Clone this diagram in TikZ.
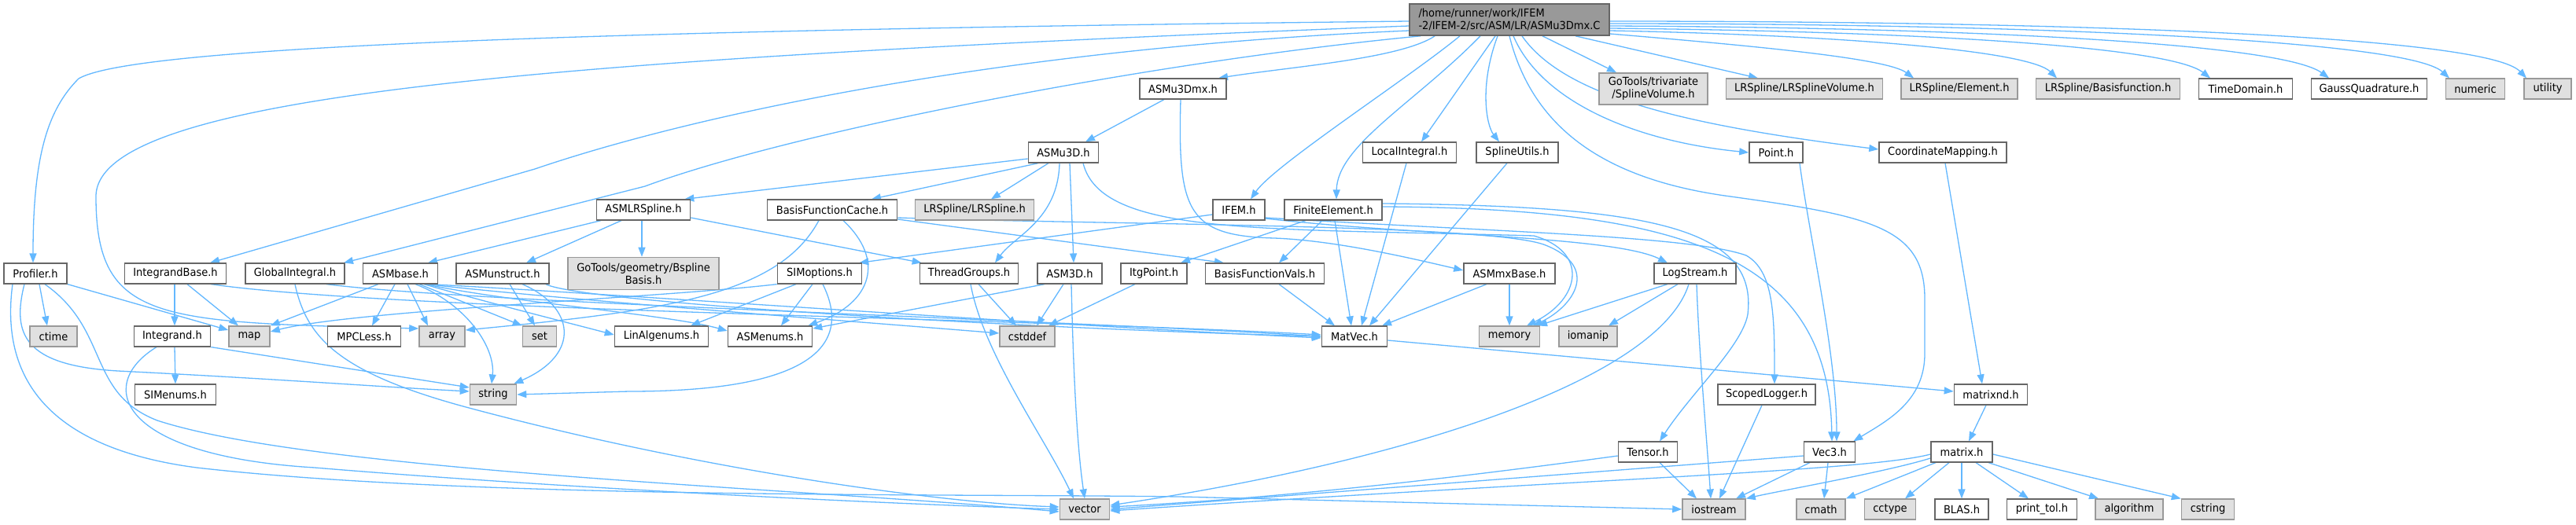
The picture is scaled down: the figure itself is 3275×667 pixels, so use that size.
\documentclass[tikz,border=0pt]{standalone}
\usepackage{fontspec}
\setmainfont{DejaVu Sans}[FakeStretch=0.93]
\usetikzlibrary{arrows.meta}
\definecolor{edgec}{HTML}{63B8FF}
\definecolor{bdark}{HTML}{666666}
\definecolor{blight}{HTML}{999999}
\definecolor{gfill}{HTML}{E0E0E0}
\definecolor{rootfill}{HTML}{999999}
\pgfdeclarelayer{bg}
\pgfsetlayers{bg,main}
\begin{document}
\begin{tikzpicture}[x=1pt,y=-1pt,
  box/.style={rectangle, inner sep=0pt, minimum height=25.6pt, line width=1.6pt, font=\fontsize{14}{16}\selectfont, text=black},
  wn/.style={box, draw=bdark, fill=white},
  gn/.style={box, draw=blight, fill=gfill},
  rt/.style={box, draw=bdark, fill=rootfill, align=left, minimum height=40pt},
  ed/.style={draw=edgec, line width=1.3pt, -{Triangle[length=12pt,width=9pt]}},
]
\useasboundingbox (0,0) rectangle (3275,667);
% nodes
\node[rt, minimum width=254pt] (R) at (1919,25) {/home/runner/work/IFEM\\-2/IFEM-2/src/ASM/LR/ASMu3Dmx.C};
\node[wn, minimum width=110pt] (mx) at (1504,113) {ASMu3Dmx.h};
\node[gn, minimum width=138pt, minimum height=40pt, align=center] (sv) at (2102,113) {GoTools/trivariate\\/SplineVolume.h};
\node[gn, minimum width=199pt] (lrv) at (2294,113) {LRSpline/LRSplineVolume.h};
\node[gn, minimum width=148pt] (el) at (2491,113) {LRSpline/Element.h};
\node[gn, minimum width=183pt] (bf) at (2680,113) {LRSpline/Basisfunction.h};
\node[wn, minimum width=119pt] (td) at (2855,113) {TimeDomain.h};
\node[wn, minimum width=147pt] (gq) at (3012,113) {GaussQuadrature.h};
\node[gn, minimum width=75pt] (num) at (3147,113) {numeric};
\node[gn, minimum width=60pt] (util) at (3239,113) {utility};
\node[wn, minimum width=89pt] (u3d) at (1352,194) {ASMu3D.h};
\node[wn, minimum width=119pt] (li) at (1792,194) {LocalIntegral.h};
\node[wn, minimum width=104pt] (su) at (1929,194) {SplineUtils.h};
\node[wn, minimum width=68pt] (pt) at (2258,194) {Point.h};
\node[wn, minimum width=162pt] (cm) at (2470,194) {CoordinateMapping.h};
\node[wn, minimum width=119pt] (lrs) at (818,267) {ASMLRSpline.h};
\node[wn, minimum width=165pt] (bfc) at (1058,267) {BasisFunctionCache.h};
\node[gn, minimum width=151pt] (lrl) at (1239,267) {LRSpline/LRSpline.h};
\node[wn, minimum width=66pt] (ifem) at (1575,267) {IFEM.h};
\node[wn, minimum width=124pt] (fe) at (1695,267) {FiniteElement.h};
\node[wn, minimum width=80pt] (prof) at (45,348) {Profiler.h};
\node[wn, minimum width=129pt] (ib) at (223,348) {IntegrandBase.h};
\node[wn, minimum width=126pt] (gi) at (375,348) {GlobalIntegral.h};
\node[wn, minimum width=95pt] (ab) at (509,348) {ASMbase.h};
\node[wn, minimum width=118pt] (au) at (639,348) {ASMunstruct.h};
\node[gn, minimum width=192pt, minimum height=41pt, align=center] (bsb) at (818,348) {GoTools/geometry/Bspline\\Basis.h};
\node[wn, minimum width=107pt] (sim) at (1042,348) {SIMoptions.h};
\node[wn, minimum width=125pt] (tg) at (1232,348) {ThreadGroups.h};
\node[wn, minimum width=82pt] (a3d) at (1360,348) {ASM3D.h};
\node[wn, minimum width=84pt] (ip) at (1467,348) {ItgPoint.h};
\node[wn, minimum width=151pt] (bfv) at (1608,348) {BasisFunctionVals.h};
\node[wn, minimum width=116pt] (mxb) at (1919,348) {ASMmxBase.h};
\node[wn, minimum width=104pt] (ls) at (2155,348) {LogStream.h};
\node[gn, minimum width=60pt] (ctime) at (68,428) {ctime};
\node[wn, minimum width=97pt] (ig) at (219,428) {Integrand.h};
\node[gn, minimum width=52pt] (map) at (317,428) {map};
\node[wn, minimum width=93pt] (mpc) at (463,428) {MPCLess.h};
\node[gn, minimum width=58pt] (arr) at (562,428) {array};
\node[gn, minimum width=43pt] (set) at (686,428) {set};
\node[wn, minimum width=119pt] (lae) at (841,428) {LinAlgenums.h};
\node[wn, minimum width=107pt] (ae) at (979,428) {ASMenums.h};
\node[gn, minimum width=70pt] (cst) at (1306,428) {cstddef};
\node[wn, minimum width=83pt] (mv) at (1722,428) {MatVec.h};
\node[gn, minimum width=77pt] (mem) at (1919,428) {memory};
\node[gn, minimum width=74pt] (iom) at (2019,428) {iomanip};
\node[wn, minimum width=103pt] (sime) at (223,502) {SIMenums.h};
\node[gn, minimum width=59pt] (str) at (627,502) {string};
\node[wn, minimum width=124pt] (sl) at (2246,502) {ScopedLogger.h};
\node[wn, minimum width=93pt] (mnd) at (2531,502) {matrixnd.h};
\node[wn, minimum width=75pt] (ten) at (2095,575) {Tensor.h};
\node[wn, minimum width=65pt] (v3) at (2326,575) {Vec3.h};
\node[wn, minimum width=78pt] (mat) at (2494,575) {matrix.h};
\node[gn, minimum width=63pt] (vec) at (1379,648) {vector};
\node[gn, minimum width=80pt] (ios) at (2179,648) {iostream};
\node[gn, minimum width=62pt] (cmath) at (2315,648) {cmath};
\node[gn, minimum width=65pt] (cct) at (2403,648) {cctype};
\node[wn, minimum width=68pt] (blas) at (2494,648) {BLAS.h};
\node[wn, minimum width=89pt] (pto) at (2596,648) {print\_tol.h};
\node[gn, minimum width=86pt] (alg) at (2707,648) {algorithm};
\node[gn, minimum width=67pt] (cstr) at (2807,648) {cstring};

\begin{pgfonlayer}{bg}
\fill[white] (0,0) rectangle (3275,667);
% root
\draw[ed] ([yshift=-2]R.west) .. controls (600,40) and (160,65) .. (100,100) .. controls (60,140) and (42,200) .. ([xshift=-3]prof.north);
\draw[ed] ([yshift=-8]R.west) .. controls (700,75) and (122,120) .. (122,250) .. controls (122,410) and (200,410) .. ([yshift=10]arr.west);
\draw[ed] ([yshift=-14]R.west) .. controls (1300,60) and (900,140) .. (680,215) -- ([xshift=44]ib.north);
\draw[ed] ([xshift=15]R.south west) .. controls (1450,80) and (1000,170) .. (820,237) -- ([xshift=62]gi.north);
\draw[ed] ([xshift=33]R.south west) .. controls (1780,75) and (1640,85) .. ([xshift=45]mx.north);
\draw[ed] ([xshift=-63]R.south) .. controls (1790,100) and (1620,210) .. ([xshift=15]ifem.north);
\draw[ed] ([xshift=-37]R.south) .. controls (1800,130) and (1700,185) .. ([xshift=4]fe.north);
\draw[ed] ([xshift=-18]R.south) -- ([xshift=15]li.north);
\draw[ed] ([xshift=-15]R.south) .. controls (1880,110) and (1890,160) .. ([xshift=-23]su.north);
\draw[ed] (R.south) .. controls (1950,170) and (2050,230) .. (2200,250) .. controls (2380,275) and (2447,290) .. (2447,380) -- (2447,450) .. controls (2447,510) and (2400,535) .. ([xshift=-3]v3.north east);
\draw[ed] ([xshift=5]R.south) .. controls (1960,130) and (2080,180) .. (pt.west);
\draw[ed] ([xshift=16]R.south) .. controls (1990,125) and (2150,160) .. ([yshift=4]cm.west);
\draw[ed] ([xshift=42]R.south) -- ([xshift=-47]sv.north);
\draw[ed] ([xshift=84]R.south) -- ([xshift=-59]lrv.north);
\draw[ed] ([yshift=-18]R.east) .. controls (2250,60) and (2400,75) .. ([xshift=-58]el.north);
\draw[ed] ([yshift=-14]R.east) .. controls (2350,45) and (2580,65) .. ([xshift=-65]bf.north);
\draw[ed] ([yshift=-11]R.east) .. controls (2450,40) and (2760,60) .. ([xshift=-45]td.north);
\draw[ed] ([yshift=-8]R.east) .. controls (2500,35) and (2900,55) .. ([xshift=-51]gq.north);
\draw[ed] ([yshift=-5]R.east) .. controls (2560,30) and (3060,50) .. ([xshift=-33]num.north);
\draw[ed] ([yshift=-2]R.east) .. controls (2620,27) and (3160,45) .. ([xshift=-27]util.north);
% ASMu3Dmx
\draw[ed] ([xshift=-24]mx.south) -- ([xshift=28]u3d.north);
\draw[ed] ([xshift=-3]mx.south) .. controls (1497,270) and (1510,300) .. (1620,303) .. controls (1700,306) and (1800,330) .. ([yshift=4]mxb.west);
% ASMu3D
\draw[ed] ([yshift=-8]u3d.west) -- ([xshift=-8]lrs.north east);
\draw[ed] ([xshift=-32]u3d.south) -- ([xshift=50]bfc.north);
\draw[ed] ([xshift=-19]u3d.south) -- ([xshift=21]lrl.north);
\draw[ed] ([xshift=-5]u3d.south) .. controls (1345,280) and (1290,300) .. ([xshift=33]tg.north);
\draw[ed] ([xshift=8]u3d.south) -- ([xshift=5]a3d.north);
\draw[ed] ([xshift=25]u3d.south) .. controls (1400,300) and (1600,290) .. (1950,300) .. controls (2020,320) and (2010,380) .. ([xshift=22]mem.north);
% BasisFunctionCache
\draw[ed] ([yshift=-12]bfc.east) -- ([xshift=-52]bfv.north);
\draw[ed] ([yshift=-10]bfc.east) .. controls (1400,286) and (1900,285) .. (1965,312) .. controls (2035,340) and (2000,390) .. ([xshift=30]mem.north);
\draw[ed] ([xshift=-17]bfc.south) .. controls (990,375) and (850,395) .. ([yshift=8]arr.east);
\draw[ed] ([xshift=14]bfc.south) .. controls (1125,330) and (1110,385) .. ([xshift=-6]ae.north east);
% ASMLRSpline
\draw[ed] ([xshift=-54]lrs.south) -- ([xshift=35]ab.north);
\draw[ed] ([xshift=-28]lrs.south) -- ([xshift=30]au.north);
\draw[ed] ([xshift=-2]lrs.south) -- ([xshift=-2]bsb.north);
\draw[ed] ([yshift=-10]lrs.east) -- ([xshift=3]tg.north west);
% ASMbase
\draw[ed] ([xshift=-28]ab.south) -- (map.north east);
\draw[ed] ([xshift=-7]ab.south) -- ([xshift=10]mpc.north);
\draw[ed] ([xshift=9]ab.south) -- ([xshift=-18]arr.north);
\draw[ed] ([xshift=19]ab.south) .. controls (590,385) and (630,440) .. ([xshift=-2]str.north);
\draw[ed] ([xshift=24]ab.south) -- (set.north west);
\draw[ed] ([xshift=30]ab.south) .. controls (620,385) and (720,410) .. ([yshift=2]lae.west);
\draw[ed] ([xshift=32]ab.south) .. controls (650,385) and (850,400) .. ([yshift=7]ae.west);
\draw[ed] ([xshift=34]ab.south) .. controls (700,380) and (1100,410) .. ([yshift=4]cst.west);
\draw[ed] ([xshift=36]ab.south) .. controls (800,375) and (1300,412) .. ([yshift=-2]mv.west);
% IntegrandBase
\draw[ed] ([xshift=-1]ib.south) -- ([xshift=3]ig.north);
\draw[ed] ([xshift=15]ib.south) -- ([xshift=-14]map.north);
\draw[ed] ([xshift=-20]ib.south east) .. controls (500,395) and (1300,405) .. ([yshift=2]mv.west);
% GlobalIntegral
\draw[ed] (gi.south) .. controls (390,430) and (430,475) .. (600,520) .. controls (900,600) and (1200,640) .. ([yshift=3]vec.west);
\draw[ed] ([xshift=40]gi.south) .. controls (600,385) and (1300,405) .. (mv.west);
% Profiler
\draw[ed] ([xshift=5]prof.south) -- ([xshift=-8]ctime.north);
\draw[ed] (prof.south east) -- ([yshift=8]map.west);
\draw[ed] ([xshift=-14]prof.south) .. controls (15,425) and (30,465) .. (150,472) .. controls (350,482) and (480,492) .. ([yshift=4]str.west);
\draw[ed] ([xshift=-29]prof.south) .. controls (0,480) and (60,570) .. (250,595) .. controls (600,635) and (1200,628) .. (1500,632) -- (ios.west);
\draw[ed] ([xshift=12]prof.south) .. controls (140,420) and (110,500) .. (200,535) .. controls (400,600) and (1000,620) .. ([yshift=-3]vec.west);
% Integrand
\draw[ed] ([xshift=3]ig.south) -- (sime.north);
\draw[ed] (ig.south east) -- ([yshift=9]str.west);
\draw[ed] ([xshift=-20]ig.south) .. controls (120,490) and (150,580) .. (400,595) .. controls (700,620) and (1100,640) .. (vec.west);
% ASMunstruct
\draw[ed] ([xshift=9]au.south) -- ([xshift=-6]set.north);
\draw[ed] ([xshift=25]au.south) .. controls (730,390) and (740,450) .. ([xshift=-4]str.north east);
\draw[ed] ([xshift=-5]au.south east) .. controls (740,385) and (1300,418) .. (mv.west);
% SIMoptions
\draw[ed] (sim.south west) .. controls (850,378) and (450,395) .. ([yshift=6]map.east);
\draw[ed] ([xshift=-30]sim.south) -- ([xshift=37]lae.north);
\draw[ed] ([xshift=-9]sim.south) -- ([xshift=14]ae.north);
\draw[ed] ([xshift=4]sim.south) .. controls (1085,440) and (1030,498) .. (800,498) -- (str.east);
% ThreadGroups, ASM3D, ItgPoint
\draw[ed] ([xshift=12]tg.south) -- ([xshift=-14]cst.north);
\draw[ed] ([xshift=2]tg.south) .. controls (1250,450) and (1330,560) .. ([xshift=-14]vec.north);
\draw[ed] ([xshift=-32]a3d.south) -- ([yshift=10]ae.east);
\draw[ed] ([xshift=-8]a3d.south) -- ([xshift=12]cst.north);
\draw[ed] ([xshift=2]a3d.south) .. controls (1364,450) and (1368,560) .. (vec.north);
\draw[ed] ([xshift=-24]ip.south) -- ([xshift=27]cst.north);
% BasisFunctionVals, FiniteElement
\draw[ed] ([xshift=18]bfv.south) -- ([xshift=-25]mv.north);
\draw[ed] ([xshift=-14]fe.south) -- ([xshift=18]bfv.north);
\draw[ed] ([xshift=2]fe.south) -- ([xshift=-4]mv.north);
\draw[ed] ([xshift=-35]fe.south) -- ([xshift=34]ip.north);
\draw[ed] ([yshift=4]fe.east) .. controls (2150,265) and (2325,330) .. ([xshift=3]v3.north);
\draw[ed] ([yshift=8]fe.east) .. controls (2100,262) and (2235,290) .. (2222,400) .. controls (2215,440) and (2150,500) .. ([xshift=15]ten.north);
% IFEM
\draw[ed] ([yshift=-6]ifem.west) -- ([xshift=-4]sim.north east);
\draw[ed] ([yshift=-11]ifem.east) .. controls (1800,300) and (2050,300) .. ([xshift=-35]ls.north);
\draw[ed] ([yshift=-10]ifem.east) .. controls (1900,295) and (2150,300) .. (2220,325) .. controls (2255,345) and (2256,400) .. ([xshift=10]sl.north);
% LocalIntegral, SplineUtils, ASMmxBase
\draw[ed] ([xshift=-4]li.south) -- ([xshift=9]mv.north);
\draw[ed] ([xshift=-13]su.south) -- ([xshift=19]mv.north);
\draw[ed] (mxb.south) -- (mem.north);
\draw[ed] ([xshift=-29]mxb.south) -- ([xshift=35]mv.north);
% LogStream
\draw[ed] ([xshift=-35]ls.south) -- ([xshift=36]mem.north);
\draw[ed] ([xshift=-22]ls.south) -- ([xshift=26]iom.north);
\draw[ed] ([xshift=-8]ls.south) .. controls (2110,480) and (1800,585) .. ([yshift=5]vec.east);
\draw[ed] ([xshift=2]ls.south) .. controls (2160,450) and (2170,560) .. ([xshift=-4]ios.north);
\draw[ed] ([xshift=-6]sl.south) -- ([xshift=7]ios.north);
% Tensor, Vec3, Point
\draw[ed] ([xshift=15]ten.south) -- ([xshift=-22]ios.north);
\draw[ed] ([yshift=-5]ten.west) .. controls (1800,615) and (1600,635) .. ([yshift=3]vec.east);
\draw[ed] ([xshift=-25]v3.south) -- ([xshift=28]ios.north);
\draw[ed] ([xshift=-2]v3.south) -- ([xshift=4]cmath.north);
\draw[ed] ([yshift=-5]v3.west) -- (vec.east);
\draw[ed] ([xshift=30]pt.south) .. controls (2300,300) and (2335,450) .. ([xshift=9]v3.north);
% MatVec, matrixnd, matrix
\draw[ed] ([yshift=-5]mv.east) -- ([yshift=4]mnd.west);
\draw[ed] ([xshift=3]cm.south) -- ([xshift=-11]mnd.north);
\draw[ed] ([xshift=-6]mnd.south) -- ([xshift=9]mat.north);
\draw[ed] ([yshift=-3]mat.west) .. controls (2370,600) and (2000,610) .. ([yshift=-2]vec.east);
\draw[ed] ([yshift=-8]mat.west) .. controls (2400,600) and (2260,625) .. (ios.north east);
\draw[ed] ([xshift=-33]mat.south) -- (cmath.north east);
\draw[ed] ([xshift=-16]mat.south) -- ([xshift=19]cct.north);
\draw[ed] (mat.south) -- (blas.north);
\draw[ed] ([xshift=18]mat.south) -- ([xshift=-17]pto.north);
\draw[ed] ([xshift=34]mat.south) -- ([xshift=-39]alg.north);
\draw[ed] ([yshift=-3]mat.east) -- (cstr.north west);
\end{pgfonlayer}
\end{tikzpicture}
\end{document}
